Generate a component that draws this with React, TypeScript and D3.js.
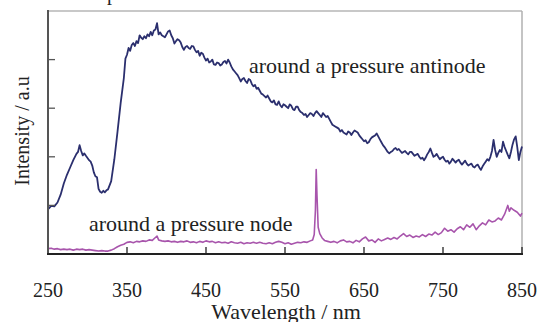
import React from "react";
import * as d3 from "d3";

const xTicks = [250, 350, 450, 550, 650, 750, 850];
const yTicks = [1, 2, 3, 4];

const antinode: [number, number][] = [
  [250, 0.92], [254, 0.99], [258, 0.98], [262, 1.06], [266, 1.22], [270, 1.45], [274, 1.63], [278, 1.78],
  [282, 1.93], [286, 2.06], [288, 2.1], [290, 2.24], [292, 2.12], [294, 2.03], [296, 2.07], [298, 2.02], [302, 1.93],
  [304, 1.9], [306, 1.82], [308, 1.68], [310, 1.6], [312, 1.58], [314, 1.34], [316, 1.28], [318, 1.26], [320, 1.3],
  [322, 1.27], [324, 1.31], [326, 1.33], [330, 1.5], [334, 1.95], [338, 2.52], [342, 3.11], [346, 3.62], [348, 4.02],
  [350, 4.1], [352, 4.24], [354, 4.18], [356, 4.3], [358, 4.34], [360, 4.28], [362, 4.38], [364, 4.34], [366, 4.5],
  [368, 4.45], [370, 4.42], [372, 4.48], [374, 4.44], [376, 4.52], [378, 4.48], [380, 4.57], [382, 4.5], [384, 4.6],
  [386, 4.62], [388, 4.75], [390, 4.52], [392, 4.56], [394, 4.5], [396, 4.48], [398, 4.46], [400, 4.52], [402, 4.58],
  [404, 4.6], [406, 4.5], [408, 4.44], [410, 4.33], [412, 4.38], [414, 4.42], [416, 4.4], [418, 4.35], [420, 4.26],
  [422, 4.2], [424, 4.26], [426, 4.28], [428, 4.24], [430, 4.22], [432, 4.28], [434, 4.27], [436, 4.2], [438, 4.15],
  [440, 4.18], [442, 4.08], [444, 4.14], [446, 4.12], [448, 4.04], [450, 3.98], [452, 4.02], [454, 3.94], [456, 3.96],
  [458, 4.0], [460, 3.9], [462, 3.89], [464, 3.94], [466, 3.93], [468, 3.88], [470, 3.9], [472, 3.95], [474, 3.97],
  [476, 3.92], [478, 4.0], [480, 3.94], [482, 3.86], [484, 3.8], [486, 3.76], [488, 3.72], [490, 3.68], [492, 3.62],
  [494, 3.55], [496, 3.6], [498, 3.62], [500, 3.56], [502, 3.52], [504, 3.6], [506, 3.58], [508, 3.5], [510, 3.45],
  [512, 3.48], [514, 3.4], [516, 3.42], [518, 3.36], [520, 3.3], [522, 3.28], [524, 3.25], [526, 3.22], [528, 3.26],
  [530, 3.2], [532, 3.14], [534, 3.12], [536, 3.16], [538, 3.08], [540, 3.07], [542, 3.14], [544, 3.06], [546, 3.02],
  [548, 3.08], [550, 3.06], [552, 3.03], [554, 3.0], [556, 3.08], [558, 3.05], [560, 2.98], [562, 2.96], [564, 3.03],
  [566, 3.03], [568, 2.96], [570, 2.92], [572, 2.9], [574, 2.86], [576, 2.88], [578, 2.82], [580, 2.86], [582, 2.9],
  [584, 2.88], [586, 2.84], [588, 2.9], [590, 2.94], [592, 2.9], [594, 2.86], [596, 2.82], [598, 2.9], [600, 2.86],
  [602, 2.82], [604, 2.84], [606, 2.78], [608, 2.72], [610, 2.66], [612, 2.64], [614, 2.62], [616, 2.6], [618, 2.58],
  [620, 2.52], [622, 2.55], [624, 2.5], [626, 2.48], [628, 2.46], [630, 2.52], [632, 2.5], [634, 2.45], [636, 2.5],
  [638, 2.54], [640, 2.52], [642, 2.5], [644, 2.44], [646, 2.4], [648, 2.36], [650, 2.32], [652, 2.34], [654, 2.28],
  [656, 2.3], [658, 2.36], [660, 2.4], [662, 2.42], [664, 2.44], [666, 2.48], [668, 2.42], [670, 2.36], [672, 2.3],
  [674, 2.24], [676, 2.2], [678, 2.15], [680, 2.1], [682, 2.07], [684, 2.1], [686, 2.12], [688, 2.16], [690, 2.18],
  [692, 2.14], [694, 2.16], [696, 2.12], [698, 2.08], [700, 2.1], [702, 2.12], [704, 2.08], [706, 2.05], [708, 2.1],
  [710, 2.1], [712, 2.06], [714, 2.02], [716, 2.04], [718, 2.06], [720, 2.0], [722, 1.96], [724, 1.98], [726, 1.93],
  [728, 1.98], [730, 2.05], [732, 2.1], [734, 2.17], [736, 2.08], [738, 2.0], [740, 2.02], [742, 2.06], [744, 2.0],
  [746, 1.95], [748, 1.98], [750, 2.0], [752, 1.94], [754, 1.9], [756, 1.92], [758, 1.86], [760, 1.9], [762, 1.96],
  [764, 1.92], [766, 1.88], [768, 1.92], [770, 1.94], [772, 1.88], [774, 1.84], [776, 1.88], [778, 1.92], [780, 1.86],
  [782, 1.82], [784, 1.84], [786, 1.86], [788, 1.8], [790, 1.78], [792, 1.82], [794, 1.84], [796, 1.78], [798, 1.73],
  [800, 1.8], [802, 1.85], [804, 1.9], [806, 1.95], [808, 1.92], [810, 2.0], [812, 2.12], [814, 2.35], [816, 2.14],
  [818, 2.0], [820, 2.08], [822, 2.14], [824, 2.1], [826, 2.31], [828, 2.2], [830, 2.12], [832, 2.04], [834, 1.97],
  [836, 2.1], [838, 2.25], [840, 2.36], [842, 2.42], [844, 2.2], [846, 1.93], [848, 2.1], [850, 2.21],
];

const node: [number, number][] = [
  [250, 0.11], [254, 0.12], [258, 0.1], [262, 0.11], [266, 0.09], [270, 0.1], [274, 0.09], [278, 0.1],
  [282, 0.08], [286, 0.1], [290, 0.09], [294, 0.1], [298, 0.08], [302, 0.09], [306, 0.08], [310, 0.07],
  [314, 0.06], [318, 0.07], [322, 0.06], [326, 0.06], [330, 0.08], [334, 0.11], [338, 0.15], [342, 0.18],
  [346, 0.2], [350, 0.24], [354, 0.25], [358, 0.23], [362, 0.26], [366, 0.25], [370, 0.27], [374, 0.26],
  [378, 0.29], [382, 0.28], [386, 0.34], [388, 0.37], [390, 0.29], [394, 0.27], [398, 0.26], [402, 0.27],
  [406, 0.25], [410, 0.26], [414, 0.24], [418, 0.26], [422, 0.25], [426, 0.27], [430, 0.24], [434, 0.25],
  [438, 0.23], [442, 0.26], [446, 0.24], [450, 0.27], [454, 0.25], [458, 0.26], [462, 0.23], [466, 0.25],
  [470, 0.23], [474, 0.24], [478, 0.22], [482, 0.25], [486, 0.23], [490, 0.22], [494, 0.24], [498, 0.21],
  [502, 0.23], [506, 0.22], [510, 0.24], [514, 0.22], [518, 0.24], [522, 0.22], [526, 0.21], [530, 0.23],
  [534, 0.21], [538, 0.24], [542, 0.26], [546, 0.24], [550, 0.21], [554, 0.23], [558, 0.2], [562, 0.22],
  [566, 0.24], [570, 0.23], [574, 0.25], [578, 0.24], [582, 0.27], [585, 0.29], [587, 0.4], [588.5, 0.9],
  [589.5, 1.74], [590.5, 1.2], [592, 0.55], [594, 0.42], [597, 0.33], [600, 0.28], [604, 0.26], [608, 0.24],
  [612, 0.26], [616, 0.23], [620, 0.27], [624, 0.29], [628, 0.25], [632, 0.26], [636, 0.23], [640, 0.28],
  [644, 0.25], [648, 0.31], [652, 0.35], [656, 0.27], [660, 0.29], [664, 0.24], [668, 0.31], [672, 0.27],
  [676, 0.3], [680, 0.33], [684, 0.3], [688, 0.34], [692, 0.31], [696, 0.37], [700, 0.42], [704, 0.36],
  [708, 0.39], [712, 0.34], [716, 0.37], [720, 0.35], [724, 0.4], [728, 0.36], [732, 0.41], [736, 0.39],
  [740, 0.45], [744, 0.4], [748, 0.44], [752, 0.53], [756, 0.47], [760, 0.5], [764, 0.45], [768, 0.52],
  [772, 0.56], [776, 0.5], [780, 0.6], [784, 0.55], [788, 0.62], [792, 0.5], [796, 0.58], [800, 0.64],
  [804, 0.6], [808, 0.7], [812, 0.66], [816, 0.68], [820, 0.74], [824, 0.7], [828, 0.82], [832, 1.0],
  [834, 0.88], [836, 0.95], [840, 0.9], [844, 0.86], [848, 0.78], [850, 0.84],
];

const W = 541;
const H = 322;
const left = 48, right = 522, top = 11, bottom = 254;
const font = "'Liberation Serif', 'Times New Roman', serif";

export default function App() {
  const x = d3.scaleLinear().domain([250, 850]).range([left, right]);
  const y = d3.scaleLinear().domain([0, 5]).range([bottom, top]);
  const line = d3.line<[number, number]>().x((d) => x(d[0])).y((d) => y(d[1]));

  return (
    <svg width={W} height={H} style={{ position: "absolute", left: 0, top: 0, background: "#fff" }}>
      <text x={107} y={0} fontFamily={font} fontSize={20} fill="#222">p</text>
      {/* frame */}
      <line x1={left} x2={right} y1={top} y2={top} stroke="#c8c8c8" strokeWidth={2} />
      <line x1={right} x2={right} y1={top} y2={bottom} stroke="#b0b0b0" strokeWidth={1.5} />
      {/* lines */}
      <path d={line(node) || ""} fill="none" stroke="#a855ac" strokeWidth={1.6} strokeLinejoin="round" />
      <path d={line(antinode) || ""} fill="none" stroke="#2b2f6e" strokeWidth={1.8} strokeLinejoin="round" />
      {/* y ticks */}
      {yTicks.map((t) => (
        <line key={t} x1={left} x2={left + 7} y1={y(t)} y2={y(t)} stroke="#555" strokeWidth={1.3} />
      ))}
      {/* x ticks */}
      {xTicks.slice(1).map((t) => (
        <line key={t} x1={x(t)} x2={x(t)} y1={bottom} y2={bottom - 7} stroke="#222" strokeWidth={1.3} />
      ))}
      <line x1={left} x2={left} y1={top - 1} y2={bottom} stroke="#555" strokeWidth={2} />
      <line x1={left - 1} x2={right + 1} y1={bottom} y2={bottom} stroke="#222" strokeWidth={2} />
      {xTicks.map((t) => (
        <text key={t} x={x(t)} y={297} textAnchor="middle" fontFamily={font} fontSize={20} fill="#222">
          {t}
        </text>
      ))}
      <text x={286} y={319} textAnchor="middle" fontFamily={font} fontSize={22} fill="#222">
        Wavelength / nm
      </text>
      <text
        transform={`translate(29, ${131}) rotate(-90)`}
        textAnchor="middle"
        fontFamily={font}
        fontSize={20}
        fill="#222"
      >
        Intensity / a.u
      </text>
      <text x={249} y={73} fontFamily={font} fontSize={22} fill="#222">around a pressure antinode</text>
      <text x={89} y={231} fontFamily={font} fontSize={22} fill="#222">around a pressure node</text>
    </svg>
  );
}
